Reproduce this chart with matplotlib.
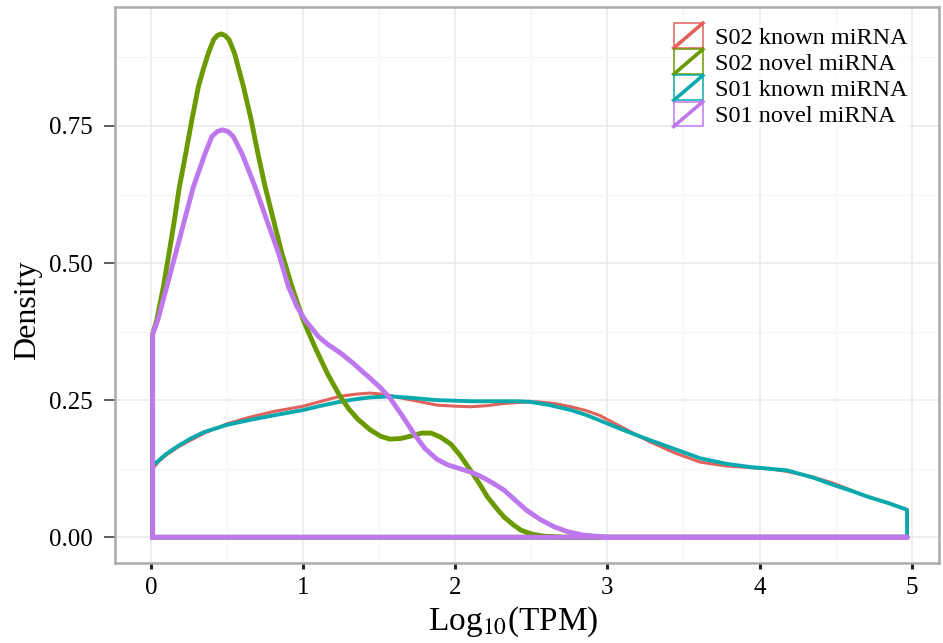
import numpy as np
import matplotlib
matplotlib.use('Agg')
import matplotlib.pyplot as plt
from matplotlib.legend_handler import HandlerBase
from matplotlib.patches import Rectangle
from matplotlib.lines import Line2D

plt.rcParams['font.family'] = ['Liberation Serif', 'DejaVu Serif']
plt.rcParams['mathtext.fontset'] = 'stix'

# density curves (x = log10(TPM), y = density)
s02_known_x = [0.01, 0.05, 0.10, 0.18, 0.26, 0.35, 0.50, 0.65, 0.80, 1.00, 1.12, 1.24, 1.35, 1.44, 1.55,
               1.66, 1.77, 1.88, 2.00, 2.10, 2.21, 2.32, 2.43, 2.54, 2.65, 2.76, 2.86, 2.95, 3.10,
               3.28, 3.45, 3.61, 3.78, 3.94, 4.06, 4.18, 4.35, 4.49, 4.60, 4.71, 4.85, 4.97]
s02_known_y = [0.125, 0.138, 0.150, 0.165, 0.177, 0.190, 0.207, 0.219, 0.229, 0.239, 0.248, 0.257, 0.261, 0.263, 0.260,
               0.253, 0.247, 0.241, 0.239, 0.238, 0.240, 0.244, 0.246, 0.247, 0.244, 0.238, 0.231, 0.222, 0.200,
               0.174, 0.153, 0.137, 0.130, 0.127, 0.125, 0.120, 0.110, 0.098, 0.086, 0.074, 0.062, 0.050]

s01_known_x = [0.01, 0.05, 0.10, 0.18, 0.26, 0.35, 0.50, 0.65, 0.80, 1.00, 1.12, 1.24, 1.35, 1.44, 1.57,
               1.72, 1.88, 2.00, 2.10, 2.21, 2.32, 2.41, 2.49, 2.62, 2.76, 2.86, 2.95, 3.10,
               3.28, 3.45, 3.61, 3.78, 3.94, 4.06, 4.18, 4.35, 4.49, 4.60, 4.71, 4.85, 4.97]
s01_known_y = [0.130, 0.140, 0.152, 0.167, 0.180, 0.192, 0.205, 0.214, 0.222, 0.232, 0.240, 0.247, 0.252, 0.255, 0.257,
               0.254, 0.250, 0.249, 0.248, 0.248, 0.248, 0.248, 0.247, 0.241, 0.232, 0.223, 0.213, 0.196,
               0.177, 0.160, 0.144, 0.134, 0.128, 0.125, 0.122, 0.109, 0.095, 0.085, 0.074, 0.062, 0.050]

s02_novel_x = [0.01, 0.037, 0.081, 0.107, 0.118, 0.153, 0.186, 0.228, 0.268, 0.311, 0.345, 0.377, 0.41, 0.435,
               0.46, 0.487, 0.513, 0.548, 0.607, 0.658, 0.702, 0.75, 0.805, 0.86, 0.926, 1.00, 1.08, 1.16, 1.24,
               1.30, 1.36, 1.44, 1.51, 1.57, 1.64, 1.70, 1.78, 1.84, 1.90, 1.97, 2.03, 2.10, 2.16, 2.21, 2.27,
               2.32, 2.38, 2.43, 2.50, 2.58, 2.70, 4.97]
s02_novel_y = [0.370, 0.396, 0.457, 0.500, 0.518, 0.578, 0.639, 0.700, 0.761, 0.822, 0.855, 0.883, 0.907, 0.915,
               0.918, 0.915, 0.907, 0.883, 0.822, 0.761, 0.700, 0.639, 0.578, 0.518, 0.457, 0.396, 0.345, 0.298, 0.258,
               0.234, 0.215, 0.196, 0.184, 0.179, 0.180, 0.184, 0.190, 0.190, 0.183, 0.170, 0.150, 0.122, 0.097, 0.074,
               0.053, 0.037, 0.023, 0.013, 0.006, 0.002, 0.000, 0.000]

s01_novel_x = [0.01, 0.044, 0.103, 0.162, 0.219, 0.278, 0.355, 0.40, 0.435, 0.469, 0.505, 0.54, 0.597, 0.684,
               0.761, 0.838, 0.903, 0.96, 1.013, 1.10, 1.16, 1.25, 1.33, 1.39, 1.44, 1.51, 1.57, 1.65, 1.73,
               1.80, 1.88, 1.95, 2.03, 2.10, 2.16, 2.24, 2.32, 2.40, 2.47, 2.56, 2.65, 2.74, 2.84, 3.00, 4.97]
s01_novel_y = [0.370, 0.396, 0.457, 0.518, 0.578, 0.639, 0.700, 0.731, 0.740, 0.743, 0.740, 0.731, 0.700, 0.639,
               0.578, 0.518, 0.457, 0.420, 0.396, 0.366, 0.352, 0.335, 0.317, 0.302, 0.290, 0.272, 0.254, 0.222, 0.188,
               0.162, 0.142, 0.132, 0.125, 0.119, 0.112, 0.100, 0.086, 0.066, 0.049, 0.032, 0.019, 0.010, 0.004,
               0.000, 0.000]

series = [
    ('S02 known miRNA', s02_known_x, s02_known_y, '#e0625a', 2.2),
    ('S02 novel miRNA', s02_novel_x, s02_novel_y, '#6a9a00', 3.5),
    ('S01 known miRNA', s01_known_x, s01_known_y, '#0aa9ae', 2.8),
    ('S01 novel miRNA', s01_novel_x, s01_novel_y, '#be78ee', 3.5),
]
draw_order = [0, 2, 1, 3]


class BoxDiagHandler(HandlerBase):
    def create_artists(self, legend, orig_handle, xdescent, ydescent, width, height, fontsize, trans):
        c = orig_handle.get_color()
        x0, y0 = -xdescent, -ydescent
        box = Rectangle((x0, y0), width, height, fill=False, edgecolor=c, lw=1.1, transform=trans)
        diag = Line2D([x0, x0 + width], [y0, y0 + height], color=c, lw=2.6, transform=trans)
        return [box, diag]


fig = plt.figure(figsize=(9.43, 6.43), dpi=100)
ax = fig.add_axes([0.122, 0.1244, 0.8738, 0.8647])

handles = {}
for i in draw_order:
    name, xs, ys, col, lw = series[i]
    xs = np.asarray(xs)
    ys = np.asarray(ys)
    # closed outline like geom_density: up the left edge, along the curve, down the right, back along zero
    px = np.concatenate([[xs[0]], xs, [xs[-1], xs[0]]])
    py = np.concatenate([[0], ys, [0, 0]])
    line, = ax.plot(px, py, color=col, lw=lw, solid_joinstyle='round', label=name)
    handles[i] = line

ax.set_xlim(-0.237, 5.18)
ax.set_ylim(-0.047, 0.967)
ax.set_xticks([0, 1, 2, 3, 4, 5])
ax.set_xticks(np.arange(0.5, 5, 1), minor=True)
ax.set_yticks([0, 0.25, 0.5, 0.75])
ax.set_yticklabels(['0.00', '0.25', '0.50', '0.75'])
ax.set_yticks([0.125, 0.375, 0.625, 0.875], minor=True)
ax.grid(which='major', color='#ebebeb', lw=1.2)
ax.grid(which='minor', color='#f4f4f4', lw=0.8)
ax.set_axisbelow(True)
ax.tick_params(axis='x', which='major', length=4, width=2.2, color='#222222', labelsize=18, pad=6)
ax.tick_params(axis='y', which='major', length=8, width=1.1, color='#333333', labelsize=18, pad=8)
ax.tick_params(which='minor', length=0)
for sp in ax.spines.values():
    sp.set_color('#aaaaaa')
    sp.set_linewidth(1.8)

ax.set_xlabel('Log$_{10}$(TPM)', fontsize=24, labelpad=3)
ax.xaxis.set_label_coords(0.483, -0.075)
ax.set_ylabel('Density', fontsize=23)
ax.yaxis.set_label_coords(-0.088, 0.455)

leg = ax.legend([handles[i] for i in range(4)], [s[0] for s in series],
                handler_map={Line2D: BoxDiagHandler()},
                loc='upper left', bbox_to_anchor=(0.678, 0.971), borderpad=0, borderaxespad=0,
                handlelength=1.2, handleheight=1.2, labelspacing=0.02, handletextpad=0.5,
                fontsize=17.5, frameon=True, fancybox=False)
leg.get_frame().set_edgecolor('none')
leg.get_frame().set_facecolor('white')

fig.savefig('out.png', dpi=100)
